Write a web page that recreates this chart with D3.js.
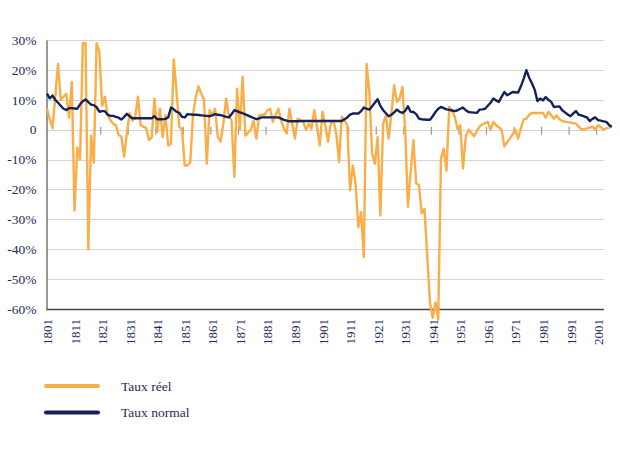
<!DOCTYPE html>
<html><head><meta charset="utf-8">
<script src="https://cdn.jsdelivr.net/npm/d3@7"></script>
<style>html,body{margin:0;padding:0;background:#fff;}svg{display:block;}</style>
</head><body>
<div id="chart"></div>
<script>
const firstYear = 1801;
const lastYear = 2006;
const yTicks = [30, 20, 10, 0, -10, -20, -30, -40, -50, -60];
const xLabels = ["1801","1811","1821","1831","1841","1851","1861","1871","1881","1891","1901","1911","1921","1931","1941","1951","1961","1971","1981","1991","2001"];
const seriesNames = ["Taux réel", "Taux normal"];
// Taux réel (%), 1801..2006
const tauxReel = [
 7, 3.5, 0.5, 11, 22, 10, 11, 12, 4, 16,
 -27, -6, -10, 29, 29, -40, -2, -11, 29, 26,
 8, 11, 5, 3.2, 2, 1.5, -1.8, -2.3, -9, -1,
 5.5, 3, 4, 11, 1.5, 1, 0.5, -3.5, -2.6, 10.4,
 -0.8, 7, -2.5, 4.8, -5.3, -4.7, 23.5, 13, 1, 0,
 -12, -12, -11, 5, 11, 14.5, 12, 10, -11.4, 6.5,
 4.8, 7, -2.5, -4, 2, 10.4, 4.8, 3, -15.8, 13.7,
 0, 17.7, -2, -1, 0, 3, -3, 4.8, 5, 5,
 6.5, 7, 2.6, 5, 7, 3, 0.3, -1.3, 7, 2,
 -3, 3.7, 3, 2.6, 0, 2, 0.3, 6.5, 1, -5.3,
 6, 1.5, -4, 2, 3, -1.3, -10.8, 4.3, 3, 1.5,
 -20.3, -12, -18, -32.6, -27.6, -42.7, 22, 12.6, -8, -11.4,
 -2.5, -28.7, 2, 4.8, -3, 5.4, 14.9, 9.3, 10.4, 14.3,
 0, -25.8, -14, -3.5, -18, -18.5, -28, -26.5, -42, -58,
 -62.9, -57.8, -63.4, -9.7, -6.4, -13.7, 7.6, 6.5, 4.3, 0.3,
 1.5, -13, -2.2, 0, -1, -2.2, -0.5, 1, 1.8, 2.2,
 2.6, 0, 2.6, 1.5, 0.8, 0, -5.6, -4.3, -3, -1.5,
 0, -3, 0.5, 3.4, 3.7, 5, 5.6, 5.6, 5.6, 5.6,
 5.6, 4, 6, 4.8, 3.7, 4.8, 3.5, 2.9, 2.7, 2.5,
 2.4, 2.2, 2, 1, 0, 0.2, 0.4, 0.7, 1, 0,
 1.5, 0.8, 0, 0.4, 0.7, 1
];
// Taux normal (%), 1801..2006
const tauxNormal = [
 12.1, 10.5, 11.4, 10, 9, 8, 7, 6.6, 7.2, 7.2,
 7.1, 7, 8.5, 9.5, 10.1, 9.2, 8.4, 8.2, 7.5, 6,
 6.2, 6.2, 5, 4.6, 4.6, 4.3, 4, 3.4, 4.3, 5.3,
 4.5, 3.8, 3.8, 3.8, 3.8, 3.8, 3.8, 3.8, 3.8, 4.5,
 3.5, 3.5, 3.5, 3.6, 4.1, 7.4, 6.8, 6, 5.6, 4.3,
 4.1, 5.2, 5.1, 5, 5, 4.9, 4.8, 4.7, 4.6, 4.5,
 4.8, 5.2, 5, 4.9, 4.6, 4.3, 4.1, 5.2, 6.5, 6.2,
 5.8, 5.5, 5.1, 4.7, 4.3, 3.9, 3.5, 3.8, 4.1, 4.1,
 4.1, 4.1, 4.1, 4.1, 4.1, 3.7, 3.3, 3, 2.8, 2.8,
 2.8, 2.8, 2.9, 2.9, 2.9, 2.9, 2.9, 2.9, 2.9, 2.9,
 2.9, 2.9, 2.9, 2.9, 2.9, 2.9, 2.9, 2.9, 3.5, 4.1,
 5, 5.4, 5.4, 5.4, 6.2, 7.4, 7, 6.7, 7.8, 9,
 10.2, 8, 6.5, 5.5, 4.5, 5, 5.8, 6.7, 6, 5.6,
 6.3, 7.8, 6, 5.9, 5.2, 3.7, 3.5, 3.4, 3.3, 3.3,
 4.5, 5.9, 7, 7.6, 7.2, 6.8, 6.6, 6.4, 6.2, 6.5,
 7, 7.4, 6.5, 5.9, 5.8, 5.7, 5.6, 6.7, 6.8, 7,
 8, 9, 10.4, 9.8, 9.3, 11, 12.6, 11.5, 12, 12.6,
 12.5, 12.4, 14.5, 17, 19.9, 17.4, 15.5, 13.4, 9.6, 10.4,
 9.8, 10.9, 10, 9.3, 7.6, 7.7, 7.8, 6.5, 5.8, 5.1,
 4.5, 5.4, 6.2, 5, 4.8, 4.4, 4.1, 2.9, 3.6, 4.1,
 3.2, 3, 2.8, 2.6, 1.6, 1
];
const colors = ["#fbad47", "#14225a"];

const W = 620, H = 451;
const svg = d3.select("#chart").append("svg").attr("width", W).attr("height", H);
const font = "'Liberation Serif', 'DejaVu Serif', serif";
const textColor = "#1d2a5b";

const x = d3.scaleLinear().domain([firstYear, lastYear]).range([47, 611.8]);
const y = d3.scaleLinear().domain([-60, 30]).range([309, 40]);
const gridLeft = 46.5, gridRight = 604;

// gridlines
svg.append("g").selectAll("line").data(yTicks.filter(d => d !== -60)).join("line")
  .attr("x1", gridLeft).attr("x2", gridRight)
  .attr("y1", d => Math.round(y(d)) + 0.5).attr("y2", d => Math.round(y(d)) + 0.5)
  .attr("stroke", "#d4d4d4").attr("stroke-width", 1.2);

// y axis
const yAxis = d3.axisLeft(y).tickValues(yTicks).tickSize(0).tickPadding(10)
  .tickFormat(d => d === 0 ? "0" : d + "%");
const gy = svg.append("g").attr("transform", `translate(${gridLeft},0)`).call(yAxis);
gy.select(".domain").attr("stroke", "#555").attr("stroke-width", 1.2);
gy.selectAll("text").attr("font-family", font).attr("font-size", 13.5).attr("fill", textColor);

// x axis at bottom
const labelYears = xLabels.map(Number);
const xAxis = d3.axisBottom(x).tickValues(labelYears).tickSize(0).tickFormat(d => String(d));
const gx = svg.append("g").attr("transform", `translate(0,${y(-60)})`).call(xAxis);
gx.select(".domain").remove();
svg.append("line").attr("x1", gridLeft).attr("x2", gridRight)
  .attr("y1", y(-60) + 0.5).attr("y2", y(-60) + 0.5).attr("stroke", "#444").attr("stroke-width", 1.4);
gx.selectAll("text")
  .attr("font-family", font).attr("font-size", 13).attr("fill", textColor)
  .attr("transform", "rotate(-90)")
  .attr("text-anchor", "end").attr("x", -10).attr("y", 0).attr("dy", "0.35em");

// small category ticks on the zero line
svg.append("g").selectAll("line").data(labelYears.slice(1)).join("line")
  .attr("x1", d => x(d - 0.5)).attr("x2", d => x(d - 0.5))
  .attr("y1", y(0) - 3).attr("y2", y(0) + 5)
  .attr("stroke", "#9a9a9a").attr("stroke-width", 1.2);

// lines
const years = tauxReel.map((_, i) => firstYear + i);
const line = d3.line().x((d, i) => x(years[i])).y(d => y(d)).curve(d3.curveLinear);
svg.append("path").datum(tauxReel).attr("d", line)
  .attr("fill", "none").attr("stroke", colors[0]).attr("stroke-width", 2.4).attr("stroke-linejoin", "round");
svg.append("path").datum(tauxNormal).attr("d", line)
  .attr("fill", "none").attr("stroke", colors[1]).attr("stroke-width", 2.4).attr("stroke-linejoin", "round");

// legend
const legend = svg.append("g");
seriesNames.forEach((name, i) => {
  const ly = 386 + i * 26.5;
  legend.append("line").attr("x1", 46).attr("x2", 98).attr("y1", ly).attr("y2", ly)
    .attr("stroke", colors[i]).attr("stroke-width", 4).attr("stroke-linecap", "round");
  legend.append("text").attr("x", 121).attr("y", ly).attr("dy", "0.35em")
    .attr("font-family", font).attr("font-size", 13.5).attr("fill", textColor).text(name);
});
</script>
</body></html>
